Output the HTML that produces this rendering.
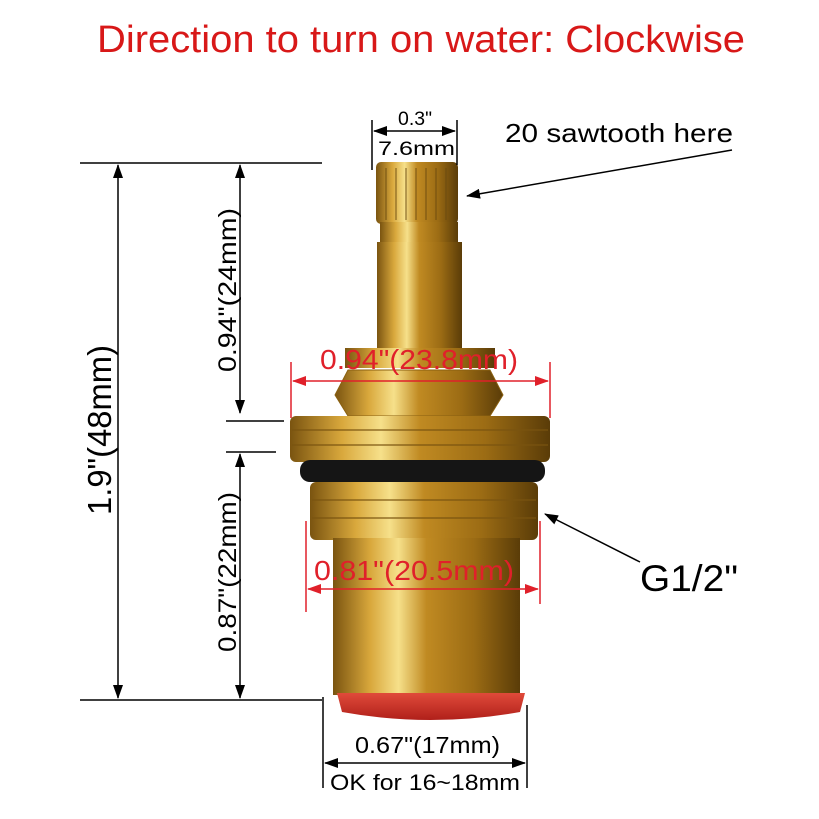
<!DOCTYPE html>
<html><head><meta charset="utf-8"><style>
html,body{margin:0;padding:0;background:#fff;}
svg{display:block;font-family:"Liberation Sans",Arial,sans-serif;}
</style></head><body>
<svg width="819" height="819" viewBox="0 0 819 819" xmlns="http://www.w3.org/2000/svg">
<defs>
<linearGradient id="br" x1="0" x2="1" y1="0" y2="0">
<stop offset="0" stop-color="#7a5410"/>
<stop offset="0.2" stop-color="#d9a83c"/>
<stop offset="0.35" stop-color="#f6e08a"/>
<stop offset="0.5" stop-color="#c08a22"/>
<stop offset="0.75" stop-color="#9c6c14"/>
<stop offset="1" stop-color="#5a3c08"/>
</linearGradient>
<linearGradient id="rd" x1="0" x2="0" y1="0" y2="1">
<stop offset="0" stop-color="#e04a3a"/>
<stop offset="1" stop-color="#b0201a"/>
</linearGradient>
<marker id="ab" markerWidth="14" markerHeight="10" refX="13" refY="5" orient="auto-start-reverse" markerUnits="userSpaceOnUse"><path d="M0,0 L14,5 L0,10 Z" fill="#000"/></marker>
<marker id="ar" markerWidth="14" markerHeight="10" refX="13" refY="5" orient="auto-start-reverse" markerUnits="userSpaceOnUse"><path d="M0,0 L14,5 L0,10 Z" fill="#e0202a"/></marker>
</defs>
<text x="97" y="52" font-size="38" fill="#d81818" textLength="648" lengthAdjust="spacingAndGlyphs">Direction to turn on water: Clockwise</text>

<rect x="376" y="162" width="82" height="62" rx="5" fill="url(#br)"/>
<g stroke="#6a4a10" stroke-width="1.5" opacity="0.6">
<line x1="386" y1="168" x2="386" y2="220"/><line x1="396" y1="168" x2="396" y2="220"/><line x1="406" y1="168" x2="406" y2="220"/><line x1="416" y1="168" x2="416" y2="220"/><line x1="426" y1="168" x2="426" y2="220"/><line x1="436" y1="168" x2="436" y2="220"/><line x1="446" y1="168" x2="446" y2="220"/>
</g>
<rect x="380" y="222" width="78" height="22" fill="url(#br)"/>
<rect x="377" y="242" width="85" height="108" fill="url(#br)"/>
<rect x="345" y="348" width="150" height="20" fill="url(#br)"/>
<polygon points="335,395 348,370 490,370 503,395 490,416 348,416" fill="url(#br)" stroke="#8a6010"/>
<rect x="290" y="416" width="260" height="46" rx="6" fill="url(#br)"/>
<g stroke="#7a5410" stroke-width="2" opacity="0.6"><line x1="292" y1="430" x2="548" y2="430"/><line x1="292" y1="445" x2="548" y2="445"/></g>
<rect x="300" y="460" width="245" height="22" rx="10" fill="#151515"/>
<rect x="310" y="482" width="228" height="58" rx="6" fill="url(#br)"/>
<g stroke="#7a5410" stroke-width="2" opacity="0.6"><line x1="312" y1="500" x2="536" y2="500"/><line x1="312" y1="518" x2="536" y2="518"/></g>
<rect x="333" y="538" width="187" height="157" fill="url(#br)"/>
<path d="M337,693 L525,693 L520,712 Q430,728 342,712 Z" fill="url(#rd)"/>

<g stroke="#000" stroke-width="1.5" fill="none">
<line x1="80" y1="163" x2="322" y2="163"/>
<line x1="80" y1="700" x2="322" y2="700"/>
<line x1="118" y1="165" x2="118" y2="698" marker-start="url(#ab)" marker-end="url(#ab)"/>
<line x1="240" y1="165" x2="240" y2="413" marker-start="url(#ab)" marker-end="url(#ab)"/>
<line x1="240" y1="454" x2="240" y2="698" marker-start="url(#ab)" marker-end="url(#ab)"/>
<line x1="226" y1="421" x2="284" y2="421"/>
<line x1="226" y1="452" x2="276" y2="452"/>
<line x1="372" y1="120" x2="372" y2="170"/>
<line x1="457" y1="120" x2="457" y2="165"/>
<line x1="374" y1="131" x2="455" y2="131" marker-start="url(#ab)" marker-end="url(#ab)"/>
<line x1="732" y1="150" x2="467" y2="196" marker-end="url(#ab)"/>
<line x1="640" y1="562" x2="545" y2="514" marker-end="url(#ab)"/>
<line x1="323" y1="697" x2="323" y2="788"/>
<line x1="527" y1="705" x2="527" y2="788"/>
<line x1="325" y1="763" x2="525" y2="763" marker-start="url(#ab)" marker-end="url(#ab)"/>
</g>
<text transform="translate(111,515) rotate(-90)" font-size="33" textLength="170" lengthAdjust="spacingAndGlyphs">1.9"(48mm)</text>
<text transform="translate(236,372) rotate(-90)" font-size="25" textLength="164" lengthAdjust="spacingAndGlyphs">0.94"(24mm)</text>
<text transform="translate(236,652) rotate(-90)" font-size="25" textLength="160" lengthAdjust="spacingAndGlyphs">0.87"(22mm)</text>
<text x="398" y="125" font-size="19" textLength="34" lengthAdjust="spacingAndGlyphs">0.3"</text>
<text x="378" y="155" font-size="19" textLength="77" lengthAdjust="spacingAndGlyphs">7.6mm</text>
<text x="505" y="142" font-size="26" textLength="228" lengthAdjust="spacingAndGlyphs">20 sawtooth here</text>
<text x="640" y="591" font-size="37" textLength="98" lengthAdjust="spacingAndGlyphs">G1/2"</text>
<text x="355" y="753" font-size="23" textLength="145" lengthAdjust="spacingAndGlyphs">0.67"(17mm)</text>
<text x="330" y="790" font-size="22" textLength="190" lengthAdjust="spacingAndGlyphs">OK for 16~18mm</text>

<g stroke="#e0202a" stroke-width="1.5" fill="none">
<line x1="291" y1="362" x2="291" y2="418"/>
<line x1="550" y1="362" x2="550" y2="418"/>
<line x1="293" y1="381" x2="548" y2="381" marker-start="url(#ar)" marker-end="url(#ar)"/>
<line x1="306" y1="521" x2="306" y2="612"/>
<line x1="540" y1="521" x2="540" y2="604"/>
<line x1="308" y1="589" x2="538" y2="589" marker-start="url(#ar)" marker-end="url(#ar)"/>
</g>
<text x="320" y="369" font-size="28" fill="#e0202a" textLength="198" lengthAdjust="spacingAndGlyphs">0.94"(23.8mm)</text>
<text x="314" y="580" font-size="28" fill="#e0202a" textLength="200" lengthAdjust="spacingAndGlyphs">0.81"(20.5mm)</text>
</svg>
</body></html>
